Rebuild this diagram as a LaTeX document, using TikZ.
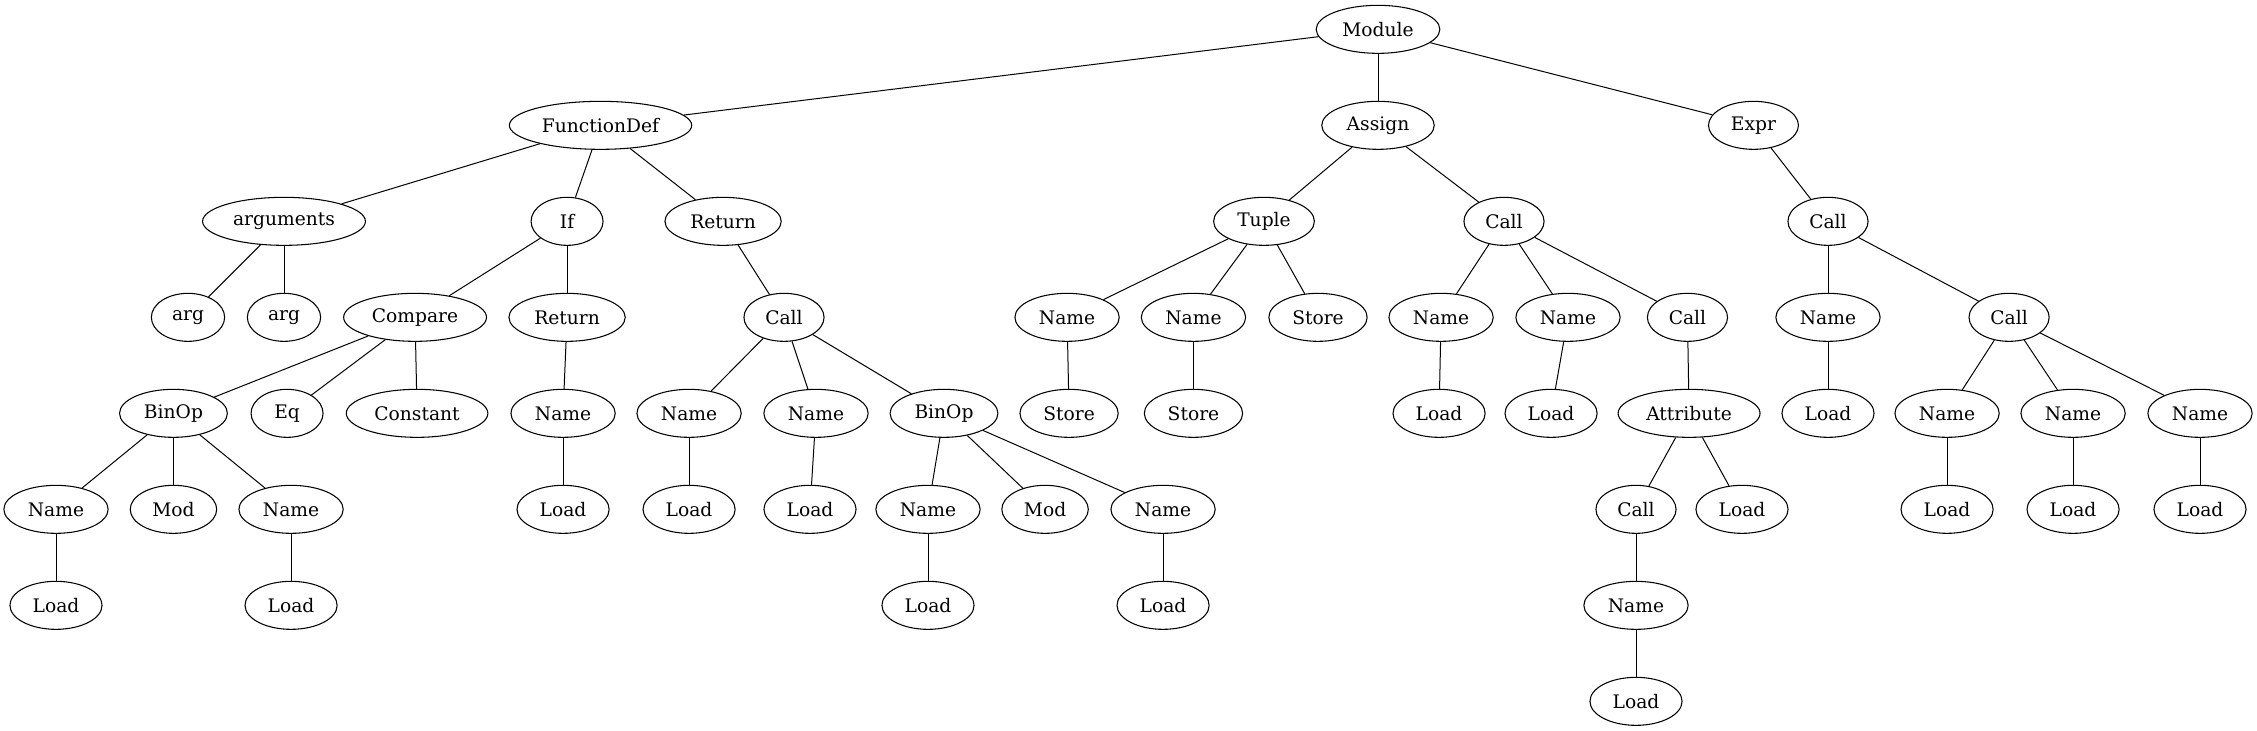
\documentclass[tikz,border=0pt]{standalone}
\usepackage{fontspec}
\setmainfont{DejaVu Serif}
\usetikzlibrary{shapes.geometric}
\newcommand\gvfont{\fontsize{14pt}{16.8pt}\selectfont}
\newlength\gvw
\newcommand\gvtext[1]{\settowidth\gvw{#1}\makebox[\dimexpr 0.9065\gvw+17.1pt\relax]{#1}}
\newcommand\gvn[4]{%
  \node[gvnode] (#1) at ({#2pt},{-22pt-72pt*#3}) {\gvtext{#4}};}
\tikzset{
  gvnode/.style={ellipse,draw,line width=0.8pt,inner xsep=0pt,inner ysep=0pt,minimum width=54pt,minimum height=36pt,font=\gvfont},
  gvedge/.style={line width=0.75pt}
}
\begin{document}
\begin{tikzpicture}
\useasboundingbox (0,0) rectangle (1692.75pt,-548.25pt);
% level 0
\gvn{module}{1033.5}{0}{Module}
% level 1
\gvn{fdef}{450.4}{1}{FunctionDef}
\gvn{assign}{1033.5}{1}{Assign}
\gvn{expr}{1315.1}{1}{Expr}
% level 2
\gvn{args}{213}{2}{arguments}
\gvn{if}{425.3}{2}{If}
\gvn{ret2}{542.3}{2}{Return}
\gvn{tuple}{948}{2}{Tuple}
\gvn{calla}{1128}{2}{Call}
\gvn{calle}{1371}{2}{Call}
% level 3
\gvn{arga}{141}{3}{arg}
\gvn{argb}{213}{3}{arg}
\gvn{cmp}{311.3}{3}{Compare}
\gvn{ret3}{425.3}{3}{Return}
\gvn{callr}{588}{3}{Call}
\gvn{namet1}{800.3}{3}{Name}
\gvn{namet2}{895.1}{3}{Name}
\gvn{storet}{988.5}{3}{Store}
\gvn{namea1}{1080.8}{3}{Name}
\gvn{namea2}{1176}{3}{Name}
\gvn{calla3}{1265.6}{3}{Call}
\gvn{namee}{1371}{3}{Name}
\gvn{calle2}{1506.8}{3}{Call}
% level 4
\gvn{binop1}{130.1}{4}{BinOp}
\gvn{eq}{215.3}{4}{Eq}
\gvn{const}{312.8}{4}{Constant}
\gvn{namer}{422.3}{4}{Name}
\gvn{namec1}{516.8}{4}{Name}
\gvn{namec2}{612}{4}{Name}
\gvn{binop2}{708}{4}{BinOp}
\gvn{storen1}{801.8}{4}{Store}
\gvn{storen2}{895.1}{4}{Store}
\gvn{loada1}{1079.3}{4}{Load}
\gvn{loada2}{1163.3}{4}{Load}
\gvn{attr}{1266.8}{4}{Attribute}
\gvn{loade}{1371}{4}{Load}
\gvn{namee1}{1460.3}{4}{Name}
\gvn{namee2}{1554.8}{4}{Name}
\gvn{namee3}{1650}{4}{Name}
% level 5
\gvn{nameb1}{42}{5}{Name}
\gvn{moda}{130.1}{5}{Mod}
\gvn{nameb2}{218.3}{5}{Name}
\gvn{loadr}{422.3}{5}{Load}
\gvn{loadc1}{516.8}{5}{Load}
\gvn{loadc2}{607.5}{5}{Load}
\gvn{nameb3}{696}{5}{Name}
\gvn{modb}{783.8}{5}{Mod}
\gvn{nameb4}{872.3}{5}{Name}
\gvn{callat}{1227}{5}{Call}
\gvn{loadat}{1306.5}{5}{Load}
\gvn{loade1}{1460.3}{5}{Load}
\gvn{loade2}{1554.8}{5}{Load}
\gvn{loade3}{1650}{5}{Load}
% level 6
\gvn{loadb1}{42}{6}{Load}
\gvn{loadb2}{218.3}{6}{Load}
\gvn{loadb3}{696}{6}{Load}
\gvn{loadb4}{872.3}{6}{Load}
\gvn{nameat}{1227}{6}{Name}
% level 7
\gvn{loadat2}{1227}{7}{Load}
% edges
\foreach \a/\b in {module/fdef,module/assign,module/expr,
  fdef/args,fdef/if,fdef/ret2,
  args/arga,args/argb,
  if/cmp,if/ret3,
  ret2/callr,
  cmp/binop1,cmp/eq,cmp/const,
  binop1/nameb1,binop1/moda,binop1/nameb2,
  nameb1/loadb1,nameb2/loadb2,
  ret3/namer,namer/loadr,
  callr/namec1,callr/namec2,callr/binop2,
  namec1/loadc1,namec2/loadc2,
  binop2/nameb3,binop2/modb,binop2/nameb4,
  nameb3/loadb3,nameb4/loadb4,
  assign/tuple,assign/calla,
  tuple/namet1,tuple/namet2,tuple/storet,
  namet1/storen1,namet2/storen2,
  calla/namea1,calla/namea2,calla/calla3,
  namea1/loada1,namea2/loada2,
  calla3/attr,attr/callat,attr/loadat,
  callat/nameat,nameat/loadat2,
  expr/calle,calle/namee,calle/calle2,
  namee/loade,
  calle2/namee1,calle2/namee2,calle2/namee3,
  namee1/loade1,namee2/loade2,namee3/loade3}
  \draw[gvedge] (\a) -- (\b);
\end{tikzpicture}
\end{document}
